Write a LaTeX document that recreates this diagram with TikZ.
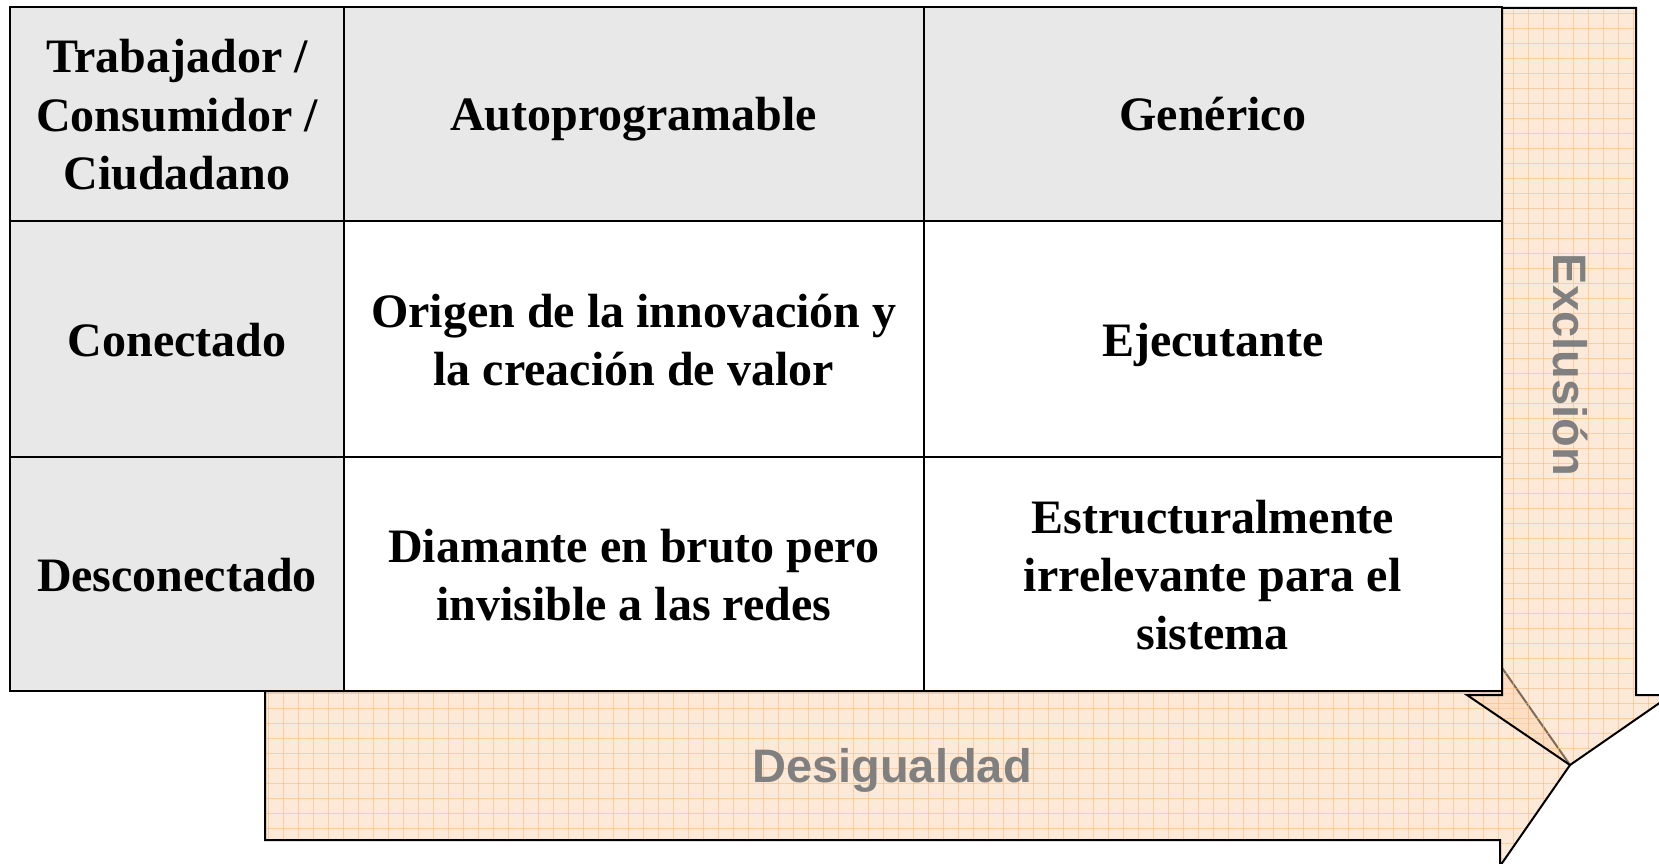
\documentclass[tikz,border=0pt]{standalone}
\usepackage{fontspec}
\setmainfont{Liberation Serif}
\newfontfamily\arialfont{Liberation Sans}
\definecolor{hdrgray}{RGB}{232,232,232}
\definecolor{arrowfill}{RGB}{251,213,177}
\definecolor{gridorange}{RGB}{250,185,120}
\definecolor{labelgray}{RGB}{128,128,128}
\newcommand{\cs}{\rule[-12pt]{0pt}{58pt}}
\begin{document}
\begin{tikzpicture}[x=1pt,y=-1pt,
  cell/.style={draw=black, line width=2pt, inner sep=0pt, align=center,
    font=\bfseries\fontsize{48}{58}\selectfont},
  hcell/.style={cell, fill=hdrgray},
  wcell/.style={cell, fill=white},
  gridlines/.style={draw=gridorange, line width=0.7pt, opacity=0.55},
  outline/.style={draw=black, line width=2pt, line join=miter},
  arrowlabel/.style={text=labelgray, font=\arialfont\bfseries\fontsize{47}{56}\selectfont}
]
\useasboundingbox (0,0) rectangle (1659,864);
\clip (0,0) rectangle (1659,864);
\fill[white] (0,0) rectangle (1659,864);

% Desigualdad arrow (right)
\fill[arrowfill, opacity=0.5] (265,691) -- (1500,691) -- (1500,665) -- (1570,765) -- (1500,866) -- (1500,840) -- (265,840) -- cycle;
\begin{scope}
  \clip (265,691) -- (1500,691) -- (1500,665) -- (1570,765) -- (1500,866) -- (1500,840) -- (265,840) -- cycle;
  \foreach \gx in {268,283,...,1580} {\draw[gridlines] (\gx,655) -- (\gx,870);}
  \foreach \gy in {663,678,...,870} {\draw[gridlines] (260,\gy) -- (1580,\gy);}
\end{scope}
\draw[outline] (265,691) -- (1500,691) -- (1500,665) -- (1570,765) -- (1500,866) -- (1500,840) -- (265,840) -- cycle;

% Exclusion arrow (down)
\fill[arrowfill, opacity=0.5] (1502,8) -- (1636,8) -- (1636,695) -- (1671,695) -- (1570,765) -- (1467,695) -- (1502,695) -- cycle;
\begin{scope}
  \clip (1502,8) -- (1636,8) -- (1636,695) -- (1671,695) -- (1570,765) -- (1467,695) -- (1502,695) -- cycle;
  \foreach \gx in {1453,1468,...,1680} {\draw[gridlines] (\gx,0) -- (\gx,780);}
  \foreach \gy in {13,28,...,780} {\draw[gridlines] (1460,\gy) -- (1680,\gy);}
\end{scope}
\draw[outline] (1502,8) -- (1636,8) -- (1636,695) -- (1671,695) -- (1570,765) -- (1467,695) -- (1502,695) -- cycle;

\node[arrowlabel, anchor=base] (desig) at (892,782) {Desigualdad};
\node[arrowlabel, rotate=-90] (exclu) at (1570,365) {Exclusión};

% Table
\node[hcell, minimum width=334, minimum height=214] (c11) at (177,114) {\cs Trabajador /\\Consumidor /\\Ciudadano\cs};
\node[hcell, minimum width=579.5, minimum height=214] (c12) at (633.75,114) {\cs Autoprogramable\cs};
\node[hcell, minimum width=578.5, minimum height=214] (c13) at (1212.75,114) {\cs Genérico\cs};
\node[hcell, minimum width=334, minimum height=236] (c21) at (177,339) {\cs Conectado\cs};
\node[wcell, minimum width=579.5, minimum height=236] (c22) at (633.75,339) {\cs Origen de la innovación y\\la creación de valor\cs};
\node[wcell, minimum width=578.5, minimum height=236] (c23) at (1212.75,339) {\cs Ejecutante\cs};
\node[hcell, minimum width=334, minimum height=234] (c31) at (177,574) {\cs Desconectado\cs};
\node[wcell, minimum width=579.5, minimum height=234] (c32) at (633.75,574) {\cs Diamante en bruto pero\\invisible a las redes\cs};
\node[wcell, minimum width=578.5, minimum height=234] (c33) at (1212.75,574) {\cs Estructuralmente\\irrelevante para el\\sistema\cs};
\end{tikzpicture}
\end{document}
